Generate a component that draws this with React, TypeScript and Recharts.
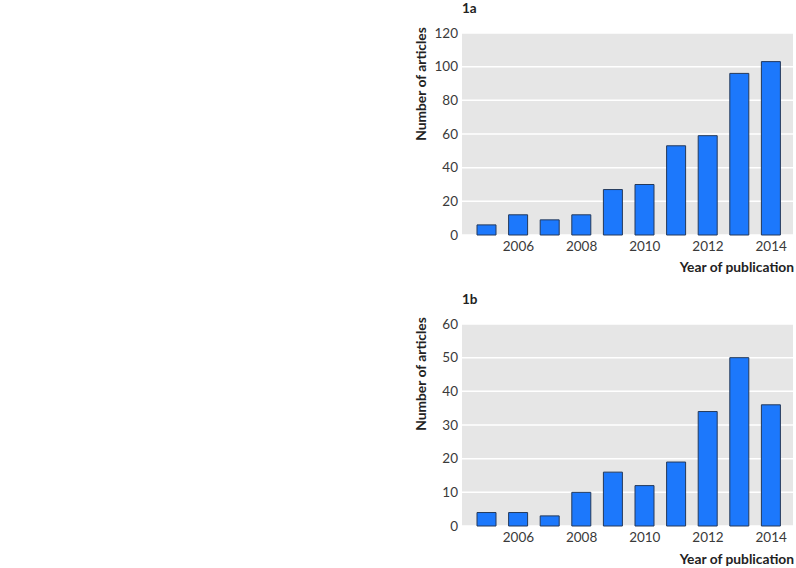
import React from 'react';
import { BarChart, Bar, XAxis, YAxis, CartesianGrid } from 'recharts';

const years = [2005, 2006, 2007, 2008, 2009, 2010, 2011, 2012, 2013, 2014];
const articlesA = [6, 12, 9, 12, 27, 30, 53, 59, 96, 103];
const articlesB = [4, 4, 3, 10, 16, 12, 19, 34, 50, 36];
const ticksA = [0, 20, 40, 60, 80, 100, 120];
const ticksB = [0, 10, 20, 30, 40, 50, 60];

const FONT = 'Lato, "Open Sans", sans-serif';
const TEXT = '#3a3a3a';

const dataA = years.map((y, i) => ({ year: y, count: articlesA[i] }));
const dataB = years.map((y, i) => ({ year: y, count: articlesB[i] }));

interface PanelProps {
  title: string;
  data: { year: number; count: number }[];
  ticks: number[];
  top: number;
  xHeight: number;
  yLabelY: number;
  xLabelY: number;
}

function Panel({ title, data, ticks, top, xHeight, yLabelY, xLabelY }: PanelProps) {
  return (
    <div style={{ position: 'relative', width: 796, height: 284 }}>
      <div
        style={{
          position: 'absolute',
          left: 462,
          top: top - 33,
          fontFamily: FONT,
          fontWeight: 700,
          fontSize: 13.5,
          color: '#222',
        }}
      >
        {title}
      </div>
      <BarChart
        width={796}
        height={284}
        data={data}
        margin={{ top, right: 3, left: 0, bottom: 0 }}
        barSize={19}
      >
        <CartesianGrid vertical={false} stroke="#ffffff" strokeWidth={1.5} fill="#e6e6e6" />
        <XAxis
          dataKey="year"
          height={xHeight}
          axisLine={false}
          tickLine={false}
          tickSize={4}
          tickMargin={2}
          interval={0}
          padding={{ left: 9, right: 6 }}
          tickFormatter={(v: number) => (v % 2 === 0 ? String(v) : '')}
          tick={{ fontFamily: FONT, fontSize: 13.5, fill: TEXT }}
          label={{
            content: () => (
              <text
                x={794}
                y={xLabelY}
                textAnchor="end"
                dominantBaseline="middle"
                style={{ fontFamily: FONT, fontWeight: 700, fontSize: 13.8, fill: '#222' }}
              >
                Year of publication
              </text>
            ),
          }}
        />
        <YAxis
          width={462}
          domain={[ticks[0], ticks[ticks.length - 1]]}
          ticks={ticks}
          axisLine={false}
          tickLine={false}
          tickSize={2}
          tickMargin={2}
          tick={{ fontFamily: FONT, fontSize: 13.5, fill: TEXT }}
          label={{
            content: () => (
              <text
                x={422}
                y={yLabelY}
                textAnchor="middle"
                dominantBaseline="middle"
                transform={`rotate(-90 422 ${yLabelY})`}
                style={{ fontFamily: FONT, fontWeight: 700, fontSize: 13.8, fill: '#222' }}
              >
                Number of articles
              </text>
            ),
          }}
        />
        <Bar dataKey="count" fill="#1c78fc" stroke="#24395a" strokeWidth={1} isAnimationActive={false} />
      </BarChart>
    </div>
  );
}

export default function App() {
  return (
    <div style={{ position: 'absolute', left: 0, top: 0, width: 796, height: 568, background: '#fff' }}>
      <Panel title="1a" data={dataA} ticks={ticksA} top={33} xHeight={49} yLabelY={84} xLabelY={268} />
      <Panel title="1b" data={dataB} ticks={ticksB} top={40} xHeight={42} yLabelY={90} xLabelY={276} />
    </div>
  );
}
